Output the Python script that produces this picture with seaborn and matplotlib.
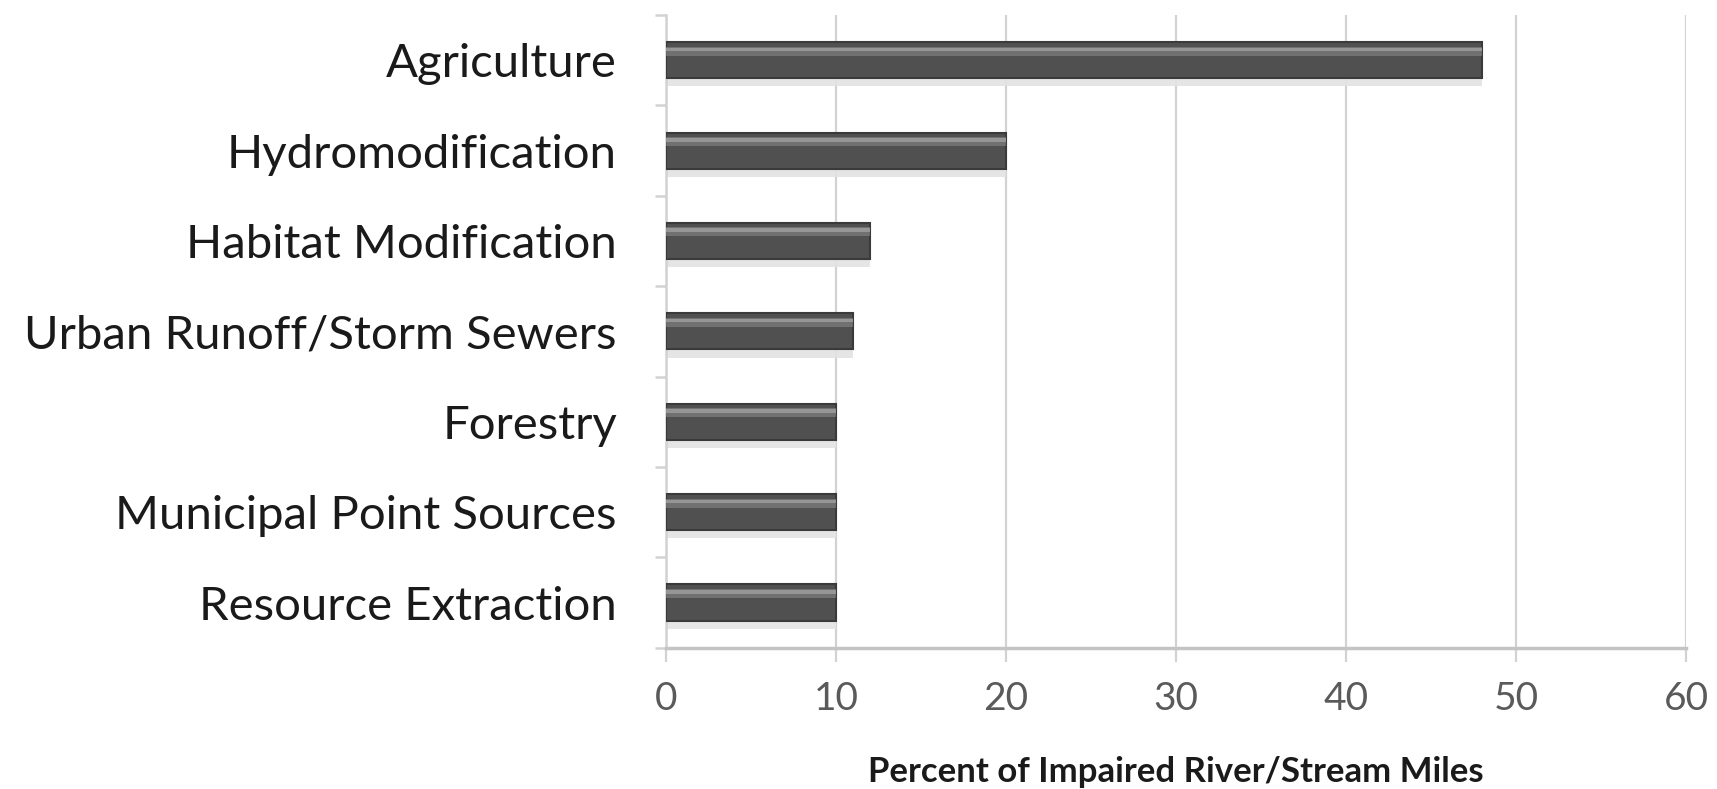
import numpy as np
import pandas as pd
import matplotlib.pyplot as plt
from matplotlib.ticker import FixedLocator
import seaborn as sns

# data
sources = ['Agriculture', 'Hydromodification', 'Habitat Modification',
           'Urban Runoff/Storm Sewers', 'Forestry', 'Municipal Point Sources',
           'Resource Extraction']
percent = [48, 20, 12, 11, 10, 10, 10]
x_ticks = [0, 10, 20, 30, 40, 50, 60]
x_label = 'Percent of Impaired River/Stream Miles'

df = pd.DataFrame({'Source': sources, 'Percent': percent})

sns.set_style('white')
plt.rcParams['font.family'] = ['Lato', 'DejaVu Sans']

fig = plt.figure(figsize=(17.17, 7.89), dpi=100)
ax = fig.add_axes([0.388, 0.179, 0.594, 0.802])

grid_col = '#d2d2d2'

# main bars
sns.barplot(data=df, x='Percent', y='Source', orient='h', color='#505050',
            width=0.4, edgecolor='#3a3a3a', linewidth=1.5, saturation=1,
            ax=ax, zorder=3)

# lighter bevel near the top of each bar, plus soft shadow below
pos = np.arange(len(sources))
ax.barh(pos - 0.1, percent, height=0.1, color='#8e8e8e', alpha=0.55,
        zorder=4, linewidth=0)
ax.barh(pos - 0.12, percent, height=0.04, color='#b0b0b0', alpha=0.6,
        zorder=5, linewidth=0)
ax.barh(pos + 0.25, percent, height=0.08, color='#e3e3e3', alpha=0.9,
        zorder=2, linewidth=0)

ax.set_xlim(0, 60)
ax.set_ylim(len(sources) - 0.5, -0.5)
ax.xaxis.set_major_locator(FixedLocator(x_ticks))
ax.grid(axis='x', color=grid_col, linewidth=1.6, zorder=0)
ax.set_axisbelow(True)

for s in ['top', 'right']:
    ax.spines[s].set_visible(False)
ax.spines['left'].set_color(grid_col)
ax.spines['left'].set_linewidth(1.8)
ax.spines['bottom'].set_color('#c4c4c4')
ax.spines['bottom'].set_linewidth(2.5)

# y tick marks sit between categories
ax.yaxis.set_minor_locator(FixedLocator(np.arange(-0.5, len(sources), 1.0)))
ax.tick_params(axis='y', which='minor', left=True, length=8, width=1.8,
               color=grid_col)
ax.tick_params(axis='y', which='major', left=False, labelsize=34,
               labelcolor='#1a1a1a', pad=32)
ax.tick_params(axis='x', which='major', bottom=True, length=10, width=1.6,
               color=grid_col, labelsize=28, labelcolor='#5a5a5a', pad=14)

ax.set_ylabel('')
ax.set_xlabel(x_label, fontsize=25, fontweight='bold', color='#1a1a1a',
              labelpad=28)

plt.savefig('out.png', dpi=100)
plt.close()
